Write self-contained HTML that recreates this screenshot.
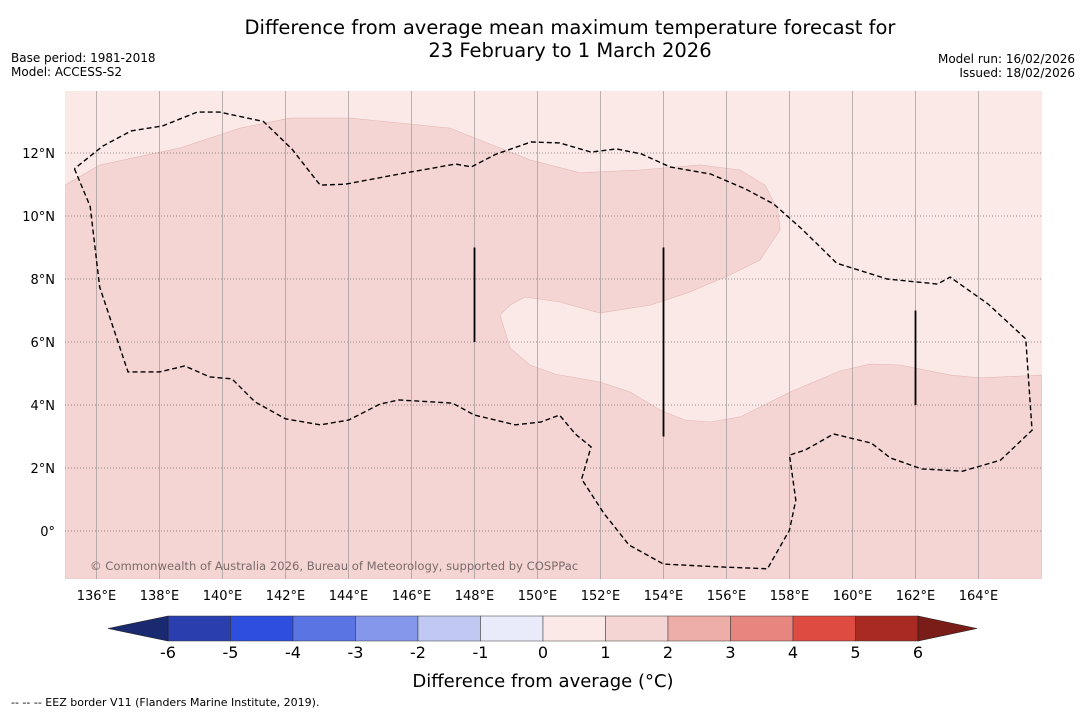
<!DOCTYPE html>
<html><head><meta charset="utf-8"><style>
body{margin:0;background:#fff;font-family:"Liberation Sans","DejaVu Sans",sans-serif}
svg text{font-family:"DejaVu Sans","Liberation Sans",sans-serif}
</style></head><body>
<svg id="chart" width="1085" height="713" xmlns="http://www.w3.org/2000/svg">
<rect width="1085" height="713" fill="#fff"/>
<text x="570" y="34" font-size="19.5" text-anchor="middle">Difference from average mean maximum temperature forecast for</text>
<text x="570" y="57" font-size="19.5" text-anchor="middle">23 February to 1 March 2026</text>
<text x="11" y="62" font-size="12">Base period: 1981-2018</text>
<text x="11" y="76" font-size="12">Model: ACCESS-S2</text>
<text x="1075" y="63" font-size="12" text-anchor="end">Model run: 16/02/2026</text>
<text x="1075" y="77" font-size="12" text-anchor="end">Issued: 18/02/2026</text>
<g id="map"></g>
<g id="cbar"></g>
<text x="543" y="687" font-size="18" text-anchor="middle">Difference from average (°C)</text>
<text x="11" y="706" font-size="11">--  --  -- EEZ border V11 (Flanders Marine Institute, 2019).</text>
</svg>
<script>
const lonTicks=[136,138,140,142,144,146,148,150,152,154,156,158,160,162,164];
const latTicks=[0,2,4,6,8,10,12];
const cbarValues=[-6,-5,-4,-3,-2,-1,0,1,2,3,4,5,6];
const cbarColors=["#2a3fad","#2e4ee0","#5a74e3","#8497ea","#c1c9f3","#e9ebfa","#fbe9e7","#f5d5d3","#eeaea8","#e6867f","#dd4b41","#a92a22"];
const warmPoly=[[135,10.98],[136.11,11.62],[138.65,12.16],[140.56,12.79],[142.14,13.11],[144.05,13.11],[147.22,12.79],[149.76,11.78],[151.35,11.37],[153.25,11.46],[155.16,11.62],[156.43,11.46],[157.22,10.98],[157.63,10.19],[157.7,9.56],[157.38,9.08],[157.06,8.6],[156.11,8.13],[154.84,7.59],[153.57,7.17],[151.98,6.92],[150.71,7.27],[149.6,7.43],[149.13,7.17],[148.81,6.86],[149.13,5.81],[149.76,5.27],[150.56,4.98],[151.98,4.73],[152.94,4.41],[153.89,3.84],[154.68,3.52],[155.48,3.46],[156.43,3.62],[158.02,4.41],[159.6,5.08],[160.56,5.3],[161.51,5.27],[163.1,4.95],[164.05,4.86],[166,4.95],[166,-1.5],[135,-1.5]];
const eez=[[135.3,11.5],[135.8,10.3],[136.1,7.75],[137,5.05],[138,5.05],[138.8,5.24],[139.6,4.89],[140.3,4.83],[141.03,4.1],[142,3.56],[143.1,3.37],[144,3.52],[145,4.03],[145.6,4.16],[147.3,4.06],[148,3.68],[149.3,3.37],[150.1,3.46],[150.7,3.68],[151.2,3.08],[151.7,2.67],[151.4,1.65],[152.1,0.57],[152.9,-0.44],[154,-1.05],[155.8,-1.14],[157.3,-1.2],[158,0.03],[158.2,0.98],[158,2.41],[158.5,2.57],[159.4,3.08],[160.6,2.79],[161.2,2.32],[162.2,1.97],[163.5,1.9],[164.7,2.25],[165.7,3.2],[165.5,6.1],[164.3,7.21],[163.1,8.06],[162.7,7.84],[161.1,8],[159.5,8.5],[158.4,9.58],[157.5,10.38],[156.6,10.86],[155.5,11.33],[154.2,11.56],[153.3,11.97],[152.5,12.13],[151.7,12.03],[150.7,12.32],[149.8,12.35],[148.7,11.97],[147.9,11.56],[147.4,11.65],[145.6,11.33],[143.9,11.01],[143.1,10.98],[142.2,12.13],[141.3,13],[139.9,13.3],[139.2,13.3],[138.1,12.86],[137.1,12.7],[136.2,12.22],[135.3,11.5]];
const bars=[[148,6,9],[154,3,9],[162,4,7]];
const NS="http://www.w3.org/2000/svg";
const X0=65,X1=1042,Y0=91,Y1=579;
const xs=lon=>65+(lon-135)*31.5, ys=lat=>531-lat*31.5;
function el(t,a,p){const e=document.createElementNS(NS,t);for(const k in a)e.setAttribute(k,a[k]);p.appendChild(e);return e;}
const map=document.getElementById('map');


const cp=el('clipPath',{id:'clip'},map);el('rect',{x:X0,y:Y0,width:X1-X0,height:Y1-Y0},cp);
const g=el('g',{'clip-path':'url(#clip)'},map);
const bg=el('rect',{x:X0,y:Y0,width:X1-X0,height:Y1-Y0,fill:'#fbe9e7'},g);


const wp=el('polygon',{points:warmPoly.map(p=>xs(p[0])+','+ys(p[1])).join(' '),fill:'#f5d5d3',stroke:'#e3b8b5','stroke-width':0.6},g);


lonTicks.forEach(l=>{const ln=el('line',{x1:xs(l),x2:xs(l),y1:Y0,y2:Y1,stroke:'#a09898','stroke-width':0.7},g);


const t=el('text',{x:xs(l),y:600,'font-size':13,'text-anchor':'middle'},map);t.textContent=l+'°E';

});
latTicks.forEach(l=>{const ln=el('line',{x1:X0,x2:X1,y1:ys(l),y2:ys(l),stroke:'#7a7070','stroke-width':0.7,'stroke-dasharray':'1,2'},g);


const t=el('text',{x:55,y:ys(l)+5,'font-size':13,'text-anchor':'end'},map);t.textContent=l===0?'0°':l+'°N';

});
const ez=el('polyline',{points:eez.map(p=>xs(p[0])+','+ys(p[1])).join(' '),fill:'none',stroke:'#000','stroke-width':1.4,'stroke-dasharray':'5,3'},g);


bars.forEach(b=>{const ln=el('line',{x1:xs(b[0]),x2:xs(b[0]),y1:ys(b[2]),y2:ys(b[1]),stroke:'#000','stroke-width':1.8},g);

});
const cr=el('text',{x:90,y:570,'font-size':11.6,fill:'#7a6a6a'},g);cr.textContent='© Commonwealth of Australia 2026, Bureau of Meteorology, supported by COSPPac';


const cb=document.getElementById('cbar');


const cx0=168,cw=62.5,cy=616,ch=25;
cbarColors.forEach((c,i)=>{const r=el('rect',{x:cx0+i*cw,y:cy,width:cw,height:ch,fill:c,stroke:'#333','stroke-width':0.5},cb);

});
const lt=el('polygon',{points:`${cx0},${cy} 108,${cy+ch/2} ${cx0},${cy+ch}`,fill:'#1a2a70',stroke:'#222','stroke-width':0.6},cb);


const xe=cx0+12*cw;
const rt=el('polygon',{points:`${xe},${cy} 977,${cy+ch/2} ${xe},${cy+ch}`,fill:'#7a1c18',stroke:'#222','stroke-width':0.6},cb);


cbarValues.forEach((v,i)=>{const t=el('text',{x:cx0+i*cw,y:658,'font-size':16,'text-anchor':'middle'},cb);t.textContent=v;

});
</script>
</body></html>
